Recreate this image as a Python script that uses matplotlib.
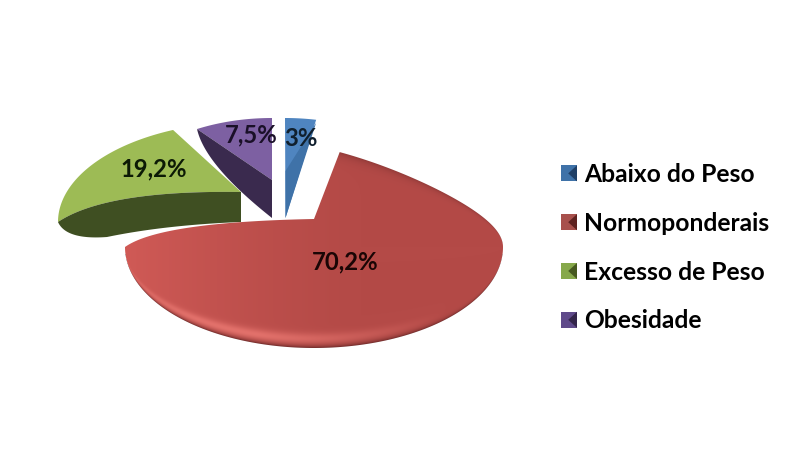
import numpy as np
import matplotlib
matplotlib.use("Agg")
import matplotlib.pyplot as plt
from matplotlib.patches import Polygon, Rectangle
from matplotlib.legend_handler import HandlerBase

categories = ["Abaixo do Peso", "Normoponderais", "Excesso de Peso", "Obesidade"]
values = [3.0, 70.2, 19.2, 7.5]
light = ["#4f85c0", "#b84c49", "#9dbb55", "#7d60a2"]
dark = ["#3f72a8", "#7d302e", "#3f4f22", "#3a2a4e"]
label_colors = ["#10202e", "#1a0505", "#0c1a05", "#1a1028"]

W, H = 787, 466
plt.rcParams["font.family"] = ["Lato", "DejaVu Sans"]
fig = plt.figure(figsize=(W / 100, H / 100), dpi=100, facecolor="white")
ax = fig.add_axes([0, 0, 1, 1])
ax.set_xlim(0, W)
ax.set_ylim(H, 0)
ax.axis("off")

# slice angles (degrees, clockwise from 12 o'clock) from the values
fractions = np.array(values) / np.sum(values)
ends = (90 - 360 * np.cumsum(fractions))
starts = np.r_[90, ends[:-1]]
K = 0.38  # far side of the disc is foreshortened


def arc(cx, cy, rx, ry, a1, a2, k=0.0, n=200):
    t = np.radians(np.linspace(a1, a2, n))
    s, c = np.sin(t), np.cos(t)
    f = np.where(s > 0, 1 - k * np.abs(c), 1.0)
    return np.c_[cx + rx * c, cy - ry * s * f]


def bez(p0, c, p1, n=50):
    t = np.linspace(0, 1, n)[:, None]
    p0, c, p1 = map(np.array, (p0, c, p1))
    return (1 - t) ** 2 * p0 + 2 * t * (1 - t) * c + t ** 2 * p1


def fill(pts, color, z):
    ax.fill(pts[:, 0], pts[:, 1], color=color, lw=0, zorder=z)


# Blue slice
a = arc(285, 219, 166, 101, starts[0], ends[0])
apex = np.array([[285.5, 218]])
fill(np.vstack([apex, a]), light[0], 2)
fill(np.vstack([apex, [[285.5, 171]], a[-1:] + [0, 3]]), dark[0], 3)

# Green slice
a = arc(247, 222, 189, 100, ends[2] + 360 - 4, 180)
edge = bez(a[-1], (106, 190), (241, 192))
fill(np.vstack([a, edge]), light[2], 2)
low = np.vstack([bez(a[-1], (66, 240), (107, 237)), bez((107, 237), (165, 225), (241, 222))])
fill(np.vstack([edge, low[::-1]]), dark[2], 3)

# Purple slice, above the green one
a = arc(272, 219, 165, 101, starts[3] + 360, ends[3] + 360)
inner = np.array([[272, 180]])
fill(np.vstack([inner, a]), light[3], 3.2)
fill(np.vstack([a[:1], inner, [[272, 218]], bez((272, 218), (205, 165), a[0])]), dark[3], 3.4)

# Red slice with a rim shading, clipped to its outline
cx, cy, rx, ry = 314, 247, 189, 101
a = arc(cx, cy, rx, ry, starts[1] + 3, -180, K, 300)
outline = np.vstack([a, bez(a[-1], (160, 222), (314, 219))])
x, y = np.meshgrid(np.arange(110, 520), np.arange(140, 360))
u = (x + .5 - cx) / rx
v = (y + .5 - cy) / ry
u2 = np.clip(np.abs(u), 0, 1)
circ = np.sqrt(np.maximum(1e-4, 1 - u2 ** 2))
v_norm = np.where(v < 0, -v / (circ * (1 - K * u2)), v / circ)
rho = np.where(np.abs(u) < 1, v_norm, 2)
inner_dist = 1 - np.clip(rho, 0, 1)
side = np.clip((-u + .25) / 1.25, 0, 1)
base = np.array([0xb4, 0x4a, 0x47])[None, None] / 255
lit = np.array([0xd0, 0x5a, 0x56])[None, None] / 255
rim = np.array([0x6e, 0x2a, 0x29])[None, None] / 255
glow = np.array([0xe4, 0x72, 0x6c])[None, None] / 255
img = base + (lit - base) * (side ** 1.4)[..., None]
lower = np.clip(v * 1.4, 0, 1) * np.clip(.7 - u, 0, 1)
g = np.exp(-((inner_dist - .09) / .06) ** 2) * lower
img = img + (glow - img) * g[..., None]
d = np.exp(-inner_dist / np.where(v > 0, .028, .06))
d = d * np.where(v > 0, 1, .55 * np.clip(u + .9, 0, 1))
img = img + (rim - img) * (d ** 1.2)[..., None]
im = ax.imshow(np.clip(img, 0, 1), extent=(110, 520, 360, 140), zorder=4, interpolation="bilinear", aspect="auto")
ax.set_xlim(0, W)
ax.set_ylim(H, 0)
poly = Polygon(outline, closed=True, transform=ax.transData, fc="none", ec="none")
ax.add_patch(poly)
im.set_clip_path(poly)

# Percentage labels
label_pos = [(301, 138), (345, 262), (154, 169), (251, 135)]
for v_, pos, c in zip(values, label_pos, label_colors):
    ax.text(pos[0], pos[1], f"{v_:g}%".replace(".", ","), ha="center", va="center",
            fontsize=17.2, fontweight="bold", color=c, zorder=6)


class BevelHandler(HandlerBase):
    def create_artists(self, legend, orig, xd, yd, w, h, fontsize, trans):
        s = min(w, h)
        x0 = -xd + (w - s) / 2
        y0 = -yd + (h - s) / 2
        sq = Rectangle((x0, y0), s, s, fc=orig.get_facecolor(), ec="none", transform=trans)
        tri = Polygon([[x0 + s, y0], [x0 + s * .45, y0 + s / 2], [x0 + s, y0 + s]], closed=True,
                      fc=orig.get_edgecolor(), ec="none", transform=trans)
        return [sq, tri]


handles = [Rectangle((0, 0), 1, 1, fc=l, ec=d_) for l, d_ in zip(["#3f72a8", "#a8504c", "#86a84a", "#5f4a8a"],
                                                                  ["#1f3f66", "#5e2220", "#46591f", "#33254a"])]
leg = ax.legend(handles, categories, handler_map={Rectangle: BevelHandler()},
                loc="upper left", bbox_to_anchor=(561 / W, 1 - 163 / H), frameon=False,
                prop={"size": 17.7, "weight": "bold"}, borderpad=0, borderaxespad=0,
                labelspacing=1.05, handlelength=0.65, handleheight=0.65, handletextpad=0.3)
leg.set_zorder(7)

fig.savefig("out.png", dpi=100, facecolor="white")
